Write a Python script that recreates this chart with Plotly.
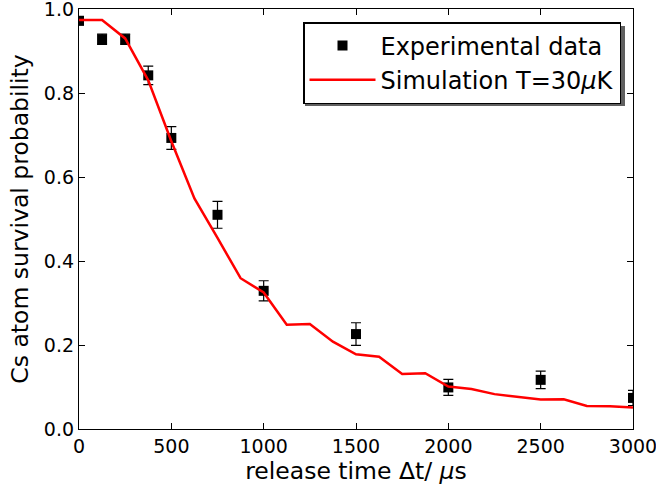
import plotly.graph_objects as go

# Experimental data
exp_t = [0, 125, 250, 375, 500, 750, 1000, 1500, 2000, 2500, 3000]
exp_p = [0.972, 0.928, 0.928, 0.842, 0.693, 0.510, 0.329, 0.226, 0.099, 0.117, 0.074]
exp_err = [0.010, 0.012, 0.012, 0.022, 0.027, 0.032, 0.024, 0.027, 0.019, 0.021, 0.018]

# Simulation T=30 uK
sim_t = [0, 125, 250, 375, 500, 625, 750, 875, 1000, 1125, 1250, 1375, 1500,
         1625, 1750, 1875, 2000, 2125, 2250, 2375, 2500, 2625, 2750, 2875, 3000]
sim_p = [0.974, 0.974, 0.930, 0.830, 0.685, 0.549, 0.455, 0.359, 0.325, 0.248,
         0.250, 0.208, 0.178, 0.172, 0.131, 0.133, 0.101, 0.095, 0.083, 0.0765,
         0.070, 0.071, 0.055, 0.054, 0.051]

x_ticks = [0, 500, 1000, 1500, 2000, 2500, 3000]
y_ticks = [0.0, 0.2, 0.4, 0.6, 0.8, 1.0]

FONT = "DejaVu Sans"

fig = go.Figure()
fig.add_trace(go.Scatter(
    x=exp_t, y=exp_p, mode="markers", name="Experimental data",
    marker=dict(symbol="square", size=10, color="black", line=dict(width=0)),
    error_y=dict(type="data", array=exp_err, color="black", thickness=1.2, width=5),
    cliponaxis=True,
))
fig.add_trace(go.Scatter(
    x=sim_t, y=sim_p, mode="lines", name="Simulation T=30<i>μ</i>K",
    line=dict(color="#ff0000", width=2.5),
))

axis_common = dict(
    showline=True, linecolor="black", linewidth=1.3, mirror="ticks",
    ticks="inside", ticklen=6, tickwidth=1, tickcolor="black",
    showgrid=False, zeroline=False, automargin=False,
    ticklabeloverflow="allow",
    tickfont=dict(family=FONT, size=19, color="black"),
)

fig.update_xaxes(range=[0, 3000], tickvals=x_ticks,
                 title=dict(text="release time Δt/ <i>μ</i>s",
                            font=dict(family=FONT, size=23.5, color="black"), standoff=6),
                 **axis_common)
fig.update_yaxes(range=[0, 1.0], tickvals=y_ticks, tickformat=".1f",
                 title=dict(text="Cs atom survival probability",
                            font=dict(family=FONT, size=23.5, color="black"), standoff=8),
                 **axis_common)

# legend shadow
fig.add_shape(type="rect", xref="paper", yref="paper",
              x0=(305 - 79) / 554, x1=(625 - 79) / 554,
              y0=(429 - 106) / 420, y1=(429 - 26) / 420,
              fillcolor="#606060", line=dict(width=0), layer="above")

fig.update_layout(
    width=656, height=489,
    margin=dict(l=79, r=23, t=9, b=60),
    paper_bgcolor="white", plot_bgcolor="white",
    font=dict(family=FONT, color="black"),
    showlegend=True,
    legend=dict(
        x=(621 - 79) / 554, y=(429 - 22) / 420, xanchor="right", yanchor="top",
        bgcolor="white", bordercolor="black", borderwidth=1.5,
        font=dict(family=FONT, size=24, color="black"),
        itemwidth=66, tracegroupgap=0,
    ),
)

fig.write_html("out.html",
               config={"displayModeBar": False},
               post_script="document.body.style.margin='0';document.body.style.overflow='hidden';")
